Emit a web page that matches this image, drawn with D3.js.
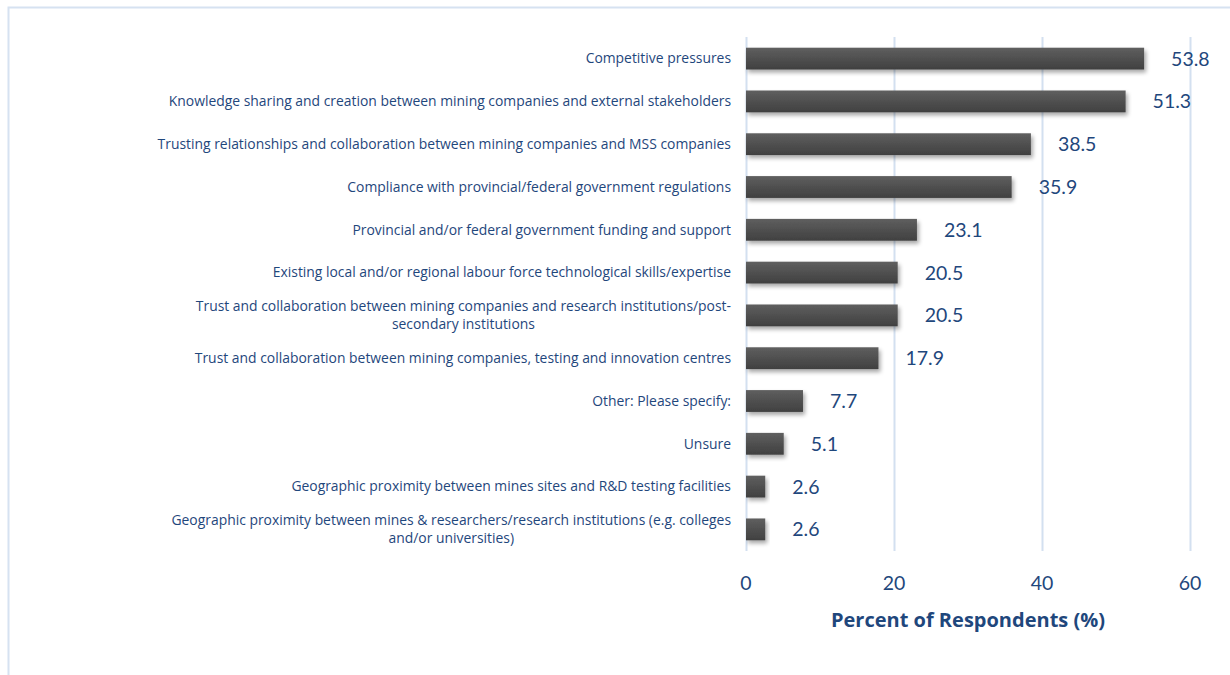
<!DOCTYPE html>
<html>
<head>
<meta charset="utf-8">
<script src="https://cdn.jsdelivr.net/npm/d3@7"></script>
<style>
  html, body { margin: 0; padding: 0; background: #fff; }
  svg { display: block; }
</style>
</head>
<body>
<svg id="chart" width="1230" height="675"></svg>
<script>
// Factors reported by respondents (top to bottom)
const categories = [
  ["Competitive pressures"],
  ["Knowledge sharing and creation between mining companies and external stakeholders"],
  ["Trusting relationships and collaboration between mining companies and MSS companies"],
  ["Compliance with provincial/federal government regulations"],
  ["Provincial and/or federal government funding and support"],
  ["Existing local and/or regional labour force technological skills/expertise"],
  ["Trust and collaboration between mining companies and research institutions/post-", "secondary institutions"],
  ["Trust and collaboration between mining companies, testing and innovation centres"],
  ["Other: Please specify:"],
  ["Unsure"],
  ["Geographic proximity between mines sites and R&D testing facilities"],
  ["Geographic proximity between mines & researchers/research institutions (e.g. colleges", "and/or universities)"]
];
const values = [53.8, 51.3, 38.5, 35.9, 23.1, 20.5, 20.5, 17.9, 7.7, 5.1, 2.6, 2.6];
const xTicks = [0, 20, 40, 60];
const xTitle = "Percent of Respondents (%)";

const svg = d3.select("#chart");
const textColor = "#1f477c";
const numFont = "Lato, 'Open Sans', sans-serif";
const labelFont = "'Open Sans', Lato, sans-serif";

// outer frame (top and left edges)
svg.append("path")
  .attr("d", "M8.5,675 V7.5 H1230")
  .attr("fill", "none")
  .attr("stroke", "#d6e2f1")
  .attr("stroke-width", 2);

const x = d3.scaleLinear().domain([0, 60]).range([746, 1190]);
const idx = d3.range(categories.length);
const y = d3.scaleBand().domain(idx).range([37, 551]).paddingInner(0.49).paddingOuter(0.25);

const defs = svg.append("defs");
const grad = defs.append("linearGradient").attr("id", "barGrad")
  .attr("x1", 0).attr("y1", 0).attr("x2", 0).attr("y2", 1);
grad.append("stop").attr("offset", "0%").attr("stop-color", "#5f5f5f");
grad.append("stop").attr("offset", "100%").attr("stop-color", "#404040");

const shadow = defs.append("filter").attr("id", "barShadow")
  .attr("x", "-10%").attr("y", "-20%").attr("width", "130%").attr("height", "180%");
shadow.append("feGaussianBlur").attr("in", "SourceAlpha").attr("stdDeviation", 2.2).attr("result", "blur");
shadow.append("feOffset").attr("in", "blur").attr("dx", 2).attr("dy", 3).attr("result", "off");
shadow.append("feComponentTransfer").attr("in", "off").attr("result", "soft")
  .append("feFuncA").attr("type", "linear").attr("slope", 0.35);
const merge = shadow.append("feMerge");
merge.append("feMergeNode").attr("in", "soft");
merge.append("feMergeNode").attr("in", "SourceGraphic");

// vertical gridlines
svg.append("g").selectAll("line").data(xTicks).join("line")
  .attr("x1", d => x(d) + 0.5).attr("x2", d => x(d) + 0.5)
  .attr("y1", 37).attr("y2", 551)
  .attr("stroke", "#d3e0f0").attr("stroke-width", 2);

// bars
svg.append("g").selectAll("rect").data(idx).join("rect")
  .attr("x", x(0))
  .attr("y", i => y(i))
  .attr("width", i => x(values[i]) - x(0))
  .attr("height", y.bandwidth())
  .attr("fill", "url(#barGrad)")
  .attr("filter", "url(#barShadow)");

// value labels
svg.append("g").selectAll("text").data(idx).join("text")
  .attr("x", i => x(values[i]) + 27)
  .attr("y", i => y(i) + y.bandwidth() / 2)
  .attr("dy", "0.36em")
  .attr("fill", textColor)
  .attr("font-family", numFont)
  .attr("font-size", 19.5)
  .text(i => values[i].toFixed(1));

// category labels (multi-line labels centred on each other, block right-aligned)
const labelRight = 731;
const catG = svg.append("g")
  .attr("font-family", labelFont).attr("font-size", 13.9).attr("fill", textColor);
idx.forEach(i => {
  const lines = categories[i];
  const cy = y(i) + y.bandwidth() / 2;
  const lh = 18;
  const g = catG.append("g");
  const texts = lines.map((ln, k) => g.append("text")
    .attr("y", cy + (k - (lines.length - 1) / 2) * lh)
    .attr("dy", "0.35em")
    .text(ln));
  const widths = texts.map(t => t.node().getComputedTextLength());
  const maxW = d3.max(widths);
  const centre = labelRight - maxW / 2;
  texts.forEach(t => t.attr("x", centre).attr("text-anchor", "middle"));
});

// x axis tick labels
svg.append("g").selectAll("text").data(xTicks).join("text")
  .attr("x", d => x(d))
  .attr("y", 583)
  .attr("dy", "0.35em")
  .attr("text-anchor", "middle")
  .attr("fill", textColor)
  .attr("font-family", numFont)
  .attr("font-size", 19.5)
  .text(d => d);

// axis title
svg.append("text")
  .attr("x", 968)
  .attr("y", 620)
  .attr("dy", "0.35em")
  .attr("text-anchor", "middle")
  .attr("fill", textColor)
  .attr("font-family", labelFont)
  .attr("font-weight", "bold")
  .attr("font-size", 20)
  .text(xTitle);
</script>
</body>
</html>
